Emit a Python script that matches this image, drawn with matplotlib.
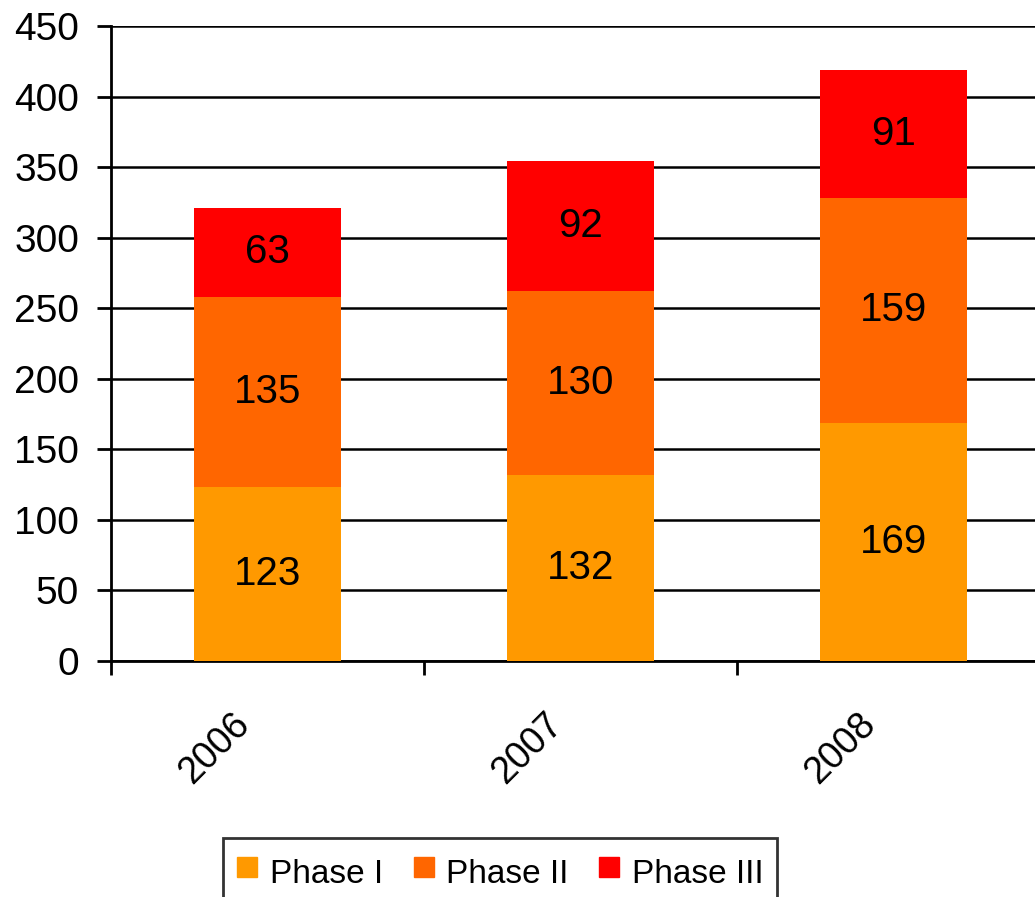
import numpy as np
import matplotlib.pyplot as plt
import matplotlib.transforms as mtransforms
from matplotlib.lines import Line2D

plt.rcParams['font.family'] = ['Liberation Sans', 'DejaVu Sans']

years = ['2006', '2007', '2008']
phase1 = [123, 132, 169]
phase2 = [135, 130, 159]
phase3 = [63, 92, 91]
names = ['Phase I', 'Phase II', 'Phase III']
colors = ['#FF9900', '#FF6600', '#FF0000']

fig = plt.figure(figsize=(10.35, 8.97), dpi=100)
ax = fig.add_axes([111 / 1035, 1 - 661 / 897, (1050 - 111) / 1035, (661 - 26) / 897])

x = np.arange(len(years))
bottom = np.zeros(len(years))
for vals, c in zip([phase1, phase2, phase3], colors):
    vals = np.array(vals)
    ax.bar(x, vals, 0.47, bottom=bottom, color=c, zorder=3)
    for xi, b, v in zip(x, bottom, vals):
        ax.text(xi, b + v / 2, str(v), ha='center', va='center', fontsize=29, zorder=4)
    bottom = bottom + vals

ax.set_xlim(-0.5, 2.5)
ax.set_ylim(0, 450)
ax.set_yticks(range(0, 451, 50))
ax.yaxis.grid(True, color='black', linewidth=1.8, zorder=0)
ax.set_axisbelow(True)

# category boundaries get the tick marks, year labels sit under the bars
ax.set_xticks([-0.5, 0.5, 1.5, 2.5])
ax.set_xticklabels([])
shift = mtransforms.ScaledTranslation(-36 / 100, -45 / 100, fig.dpi_scale_trans)
for xi, yr in zip(x, years):
    ax.text(xi, 0, yr, transform=ax.transData + shift, rotation=45, ha='right', va='top',
            rotation_mode='anchor', fontsize=27, clip_on=False)
ax.tick_params(axis='x', which='major', length=10, width=2)
ax.tick_params(axis='y', length=10, width=2, labelsize=28, pad=13)

for s in ['top', 'right']:
    ax.spines[s].set_visible(False)
for s in ['left', 'bottom']:
    ax.spines[s].set_linewidth(2)

handles = [Line2D([], [], marker='s', markersize=15, linestyle='none', color=c) for c in colors]
leg = fig.legend(handles, names, loc='upper center', bbox_to_anchor=(500 / 1035, 1 - 838 / 897),
                 ncol=3, fontsize=24, frameon=True, fancybox=False, handlelength=0.65,
                 handleheight=1.5, handletextpad=0.35, columnspacing=0.9, borderpad=0.4,
                 borderaxespad=0)
leg.get_frame().set_edgecolor('black')
leg.get_frame().set_linewidth(2)

fig.savefig('out.png', dpi=100)
